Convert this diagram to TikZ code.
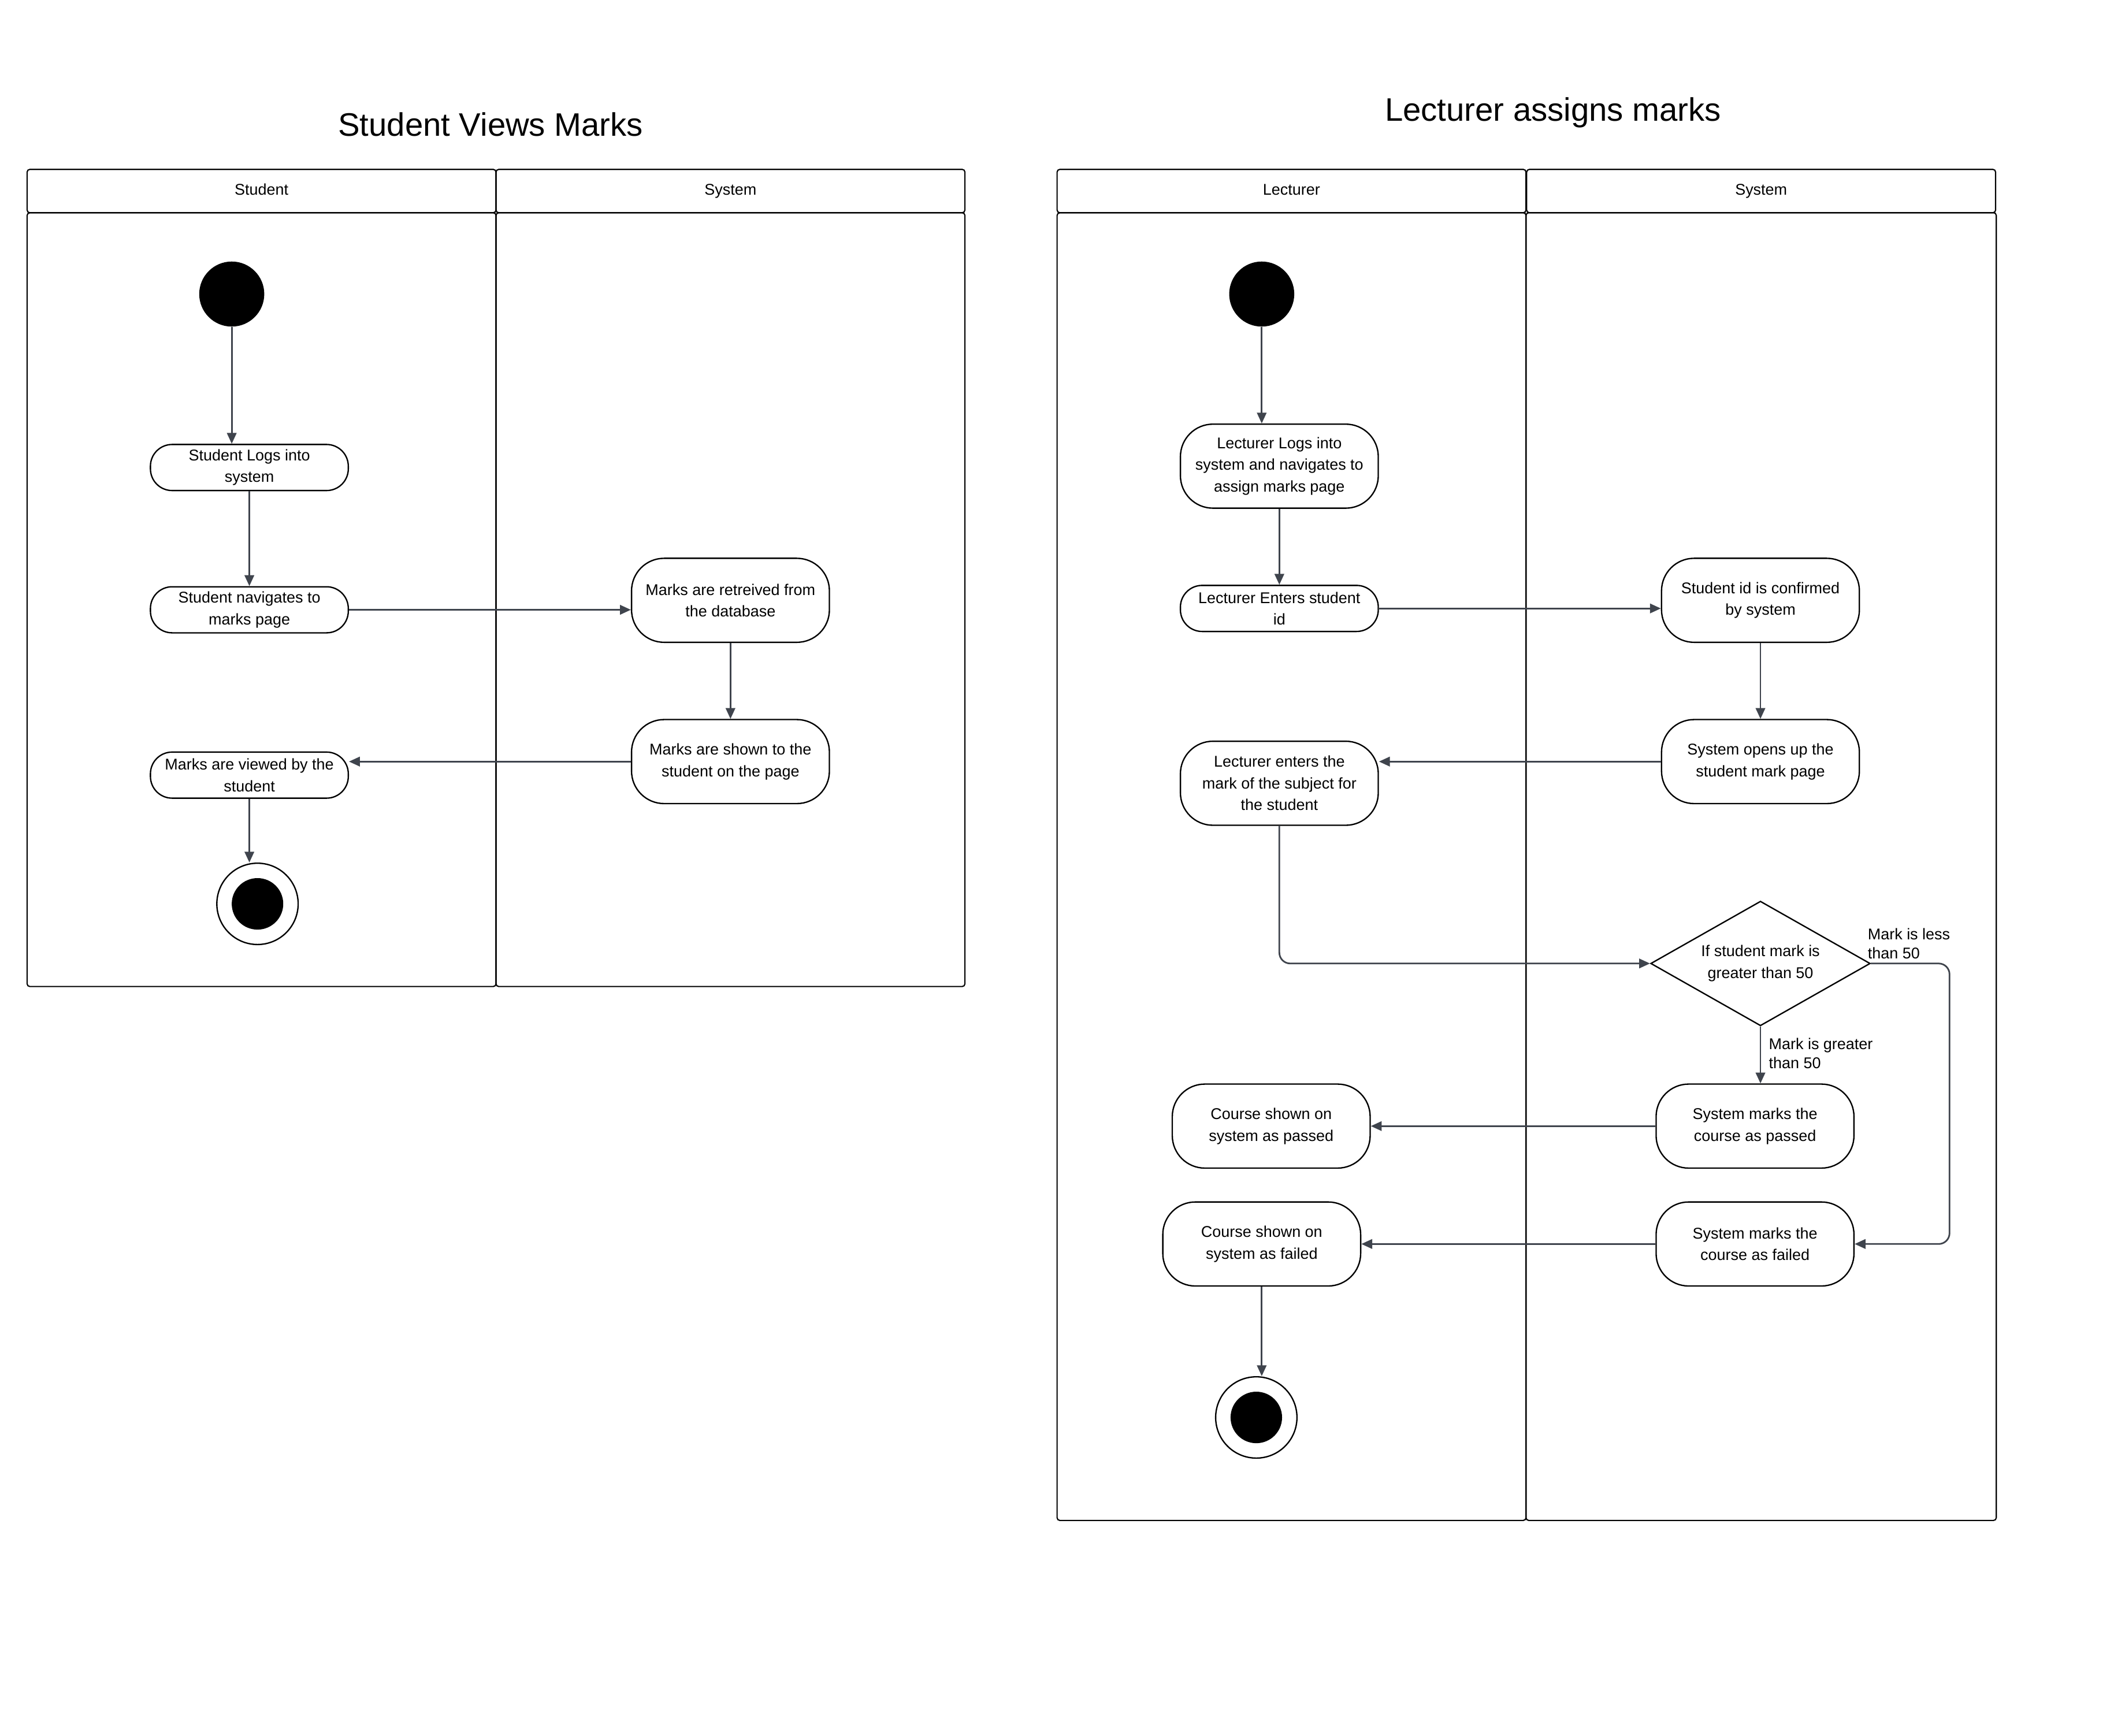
\documentclass[tikz,border=0pt]{standalone}
\usepackage{fontspec}
\setmainfont{Liberation Sans}
\usepackage{xcolor}
\usetikzlibrary{arrows.meta,shapes.geometric}
\definecolor{arrowgray}{HTML}{3F444D}

\begin{document}
\begin{tikzpicture}[x=1pt,y=-1pt]
	\tikzstyle{lane} = [draw=black, line width=0.9pt, rounded corners=2pt]
	\tikzstyle{lanehead} = [draw=black, line width=0.9pt, rounded corners=2pt, minimum width=346pt, minimum height=32pt, inner sep=0pt, text height=8.5pt, text depth=2.5pt, font=\fontsize{11.5}{14}\selectfont]
	\tikzstyle{heading} = [font=\fontsize{24}{28}\selectfont]
	\tikzstyle{act} = [draw=black, line width=1pt, fill=white, minimum width=146pt, minimum height=34pt, rounded corners=16pt, inner sep=1pt, align=center, font=\fontsize{11.5}{16}\selectfont]
	\tikzstyle{tallact} = [act, minimum height=62pt, rounded corners=24pt]
	\tikzstyle{decision} = [diamond, draw=black, line width=1pt, fill=white, aspect=1.76, minimum width=162pt, minimum height=92pt, inner sep=0pt, align=center, font=\fontsize{11.5}{16}\selectfont]
	\tikzstyle{startdot} = [circle, fill=black, minimum size=48pt, inner sep=0pt]
	\tikzstyle{enddot} = [circle, draw=black, line width=1pt, fill=white, minimum size=60pt, inner sep=0pt, path picture={\fill[black] (path picture bounding box.center) circle (19pt);}]
	\tikzstyle{flow} = [draw=arrowgray, line width=1.2pt, -{Triangle[length=8pt,width=7pt]}]
	\tikzstyle{guard} = [align=left, inner sep=0pt, font=\fontsize{11.5}{14}\selectfont]
	\useasboundingbox (0,0) rectangle (1568,1281);

	% Student views marks
		\node[heading] (titleA) at (362,92) {Student Views Marks};
		\node[lanehead] (hStudent) at (193,141) {Student};
		\node[lanehead] (hSysA) at (539,141) {System};
		\draw[lane] (20,157) rectangle (366,728);
		\draw[lane] (366,157) rectangle (712,728);
		\node[startdot] (startA) at (171,217) {};
		\node[act] (login) at (184,345) {Student Logs into\\system};
		\node[act] (navigate) at (184,450) {Student navigates to\\marks page};
		\node[tallact] (retrieve) at (539,443) {Marks are retreived from\\the database};
		\node[tallact] (shown) at (539,562) {Marks are shown to the\\student on the page};
		\node[act] (viewed) at (184,572) {Marks are viewed by the\\student};
		\node[enddot] (endA) at (190,667) {};
	\draw[flow] (startA) -- (startA |- login.north);
	\draw[flow] (login) -- (navigate);
	\draw[flow] (navigate.east) -- (navigate.east -| retrieve.west);
	\draw[flow] (retrieve) -- (shown);
	\draw[flow] (shown.west) -- (shown.west -| viewed.east);
	\draw[flow] (viewed) -- (viewed |- endA.north);

	% Lecturer assigns marks
		\node[heading] (titleB) at (1146,83) {Lecturer assigns marks};
		\node[lanehead] (hLecturer) at (953,141) {Lecturer};
		\node[lanehead] (hSysB) at (1299.5,141) {System};
		\draw[lane] (780,157) rectangle (1126,1122);
		\draw[lane] (1126,157) rectangle (1473,1122);
		\node[startdot] (startB) at (931,217) {};
		\node[tallact] (loginB) at (944,344) {Lecturer Logs into\\system and navigates to\\assign marks page};
		\node[act] (enterId) at (944,449) {Lecturer Enters student\\id};
		\node[tallact] (confirm) at (1299,443) {Student id is confirmed\\by system};
		\node[tallact] (openPage) at (1299,562) {System opens up the\\student mark page};
		\node[tallact] (enterMark) at (944,578) {Lecturer enters the\\mark of the subject for\\the student};
		\node[decision] (check) at (1299,711) {If student mark is\\greater than 50};
		\node[tallact] (passSys) at (1295,831) {System marks the\\course as passed};
		\node[tallact] (failSys) at (1295,918) {System marks the\\course as failed};
		\node[tallact] (passShow) at (938,831) {Course shown on\\system as passed};
		\node[tallact] (failShow) at (931,918) {Course shown on\\system as failed};
		\node[enddot] (endB) at (927,1046) {};
		\node[guard, anchor=north west] (lblPass) at (1305,766) {Mark is greater\\than 50};
		\node[guard, anchor=north west] (lblFail) at (1378,685) {Mark is less\\than 50};
	\draw[flow] (startB) -- (startB |- loginB.north);
	\draw[flow] (loginB) -- (enterId);
	\draw[flow] (enterId.east) -- (enterId.east -| confirm.west);
	\draw[flow] (confirm) -- (openPage);
	\draw[flow] (openPage.west) -- (openPage.west -| enterMark.east);
	\draw[flow, rounded corners=8pt] (enterMark) |- (check.west);
	\draw[flow] (check) -- (check |- passSys.north);
	\draw[flow, rounded corners=8pt] (check.east) -- ++(58,0) |- (failSys.east);
	\draw[flow] (passSys.west) -- (passSys.west -| passShow.east);
	\draw[flow] (failSys.west) -- (failSys.west -| failShow.east);
	\draw[flow] (failShow) -- (failShow |- endB.north);
\end{tikzpicture}
\end{document}
